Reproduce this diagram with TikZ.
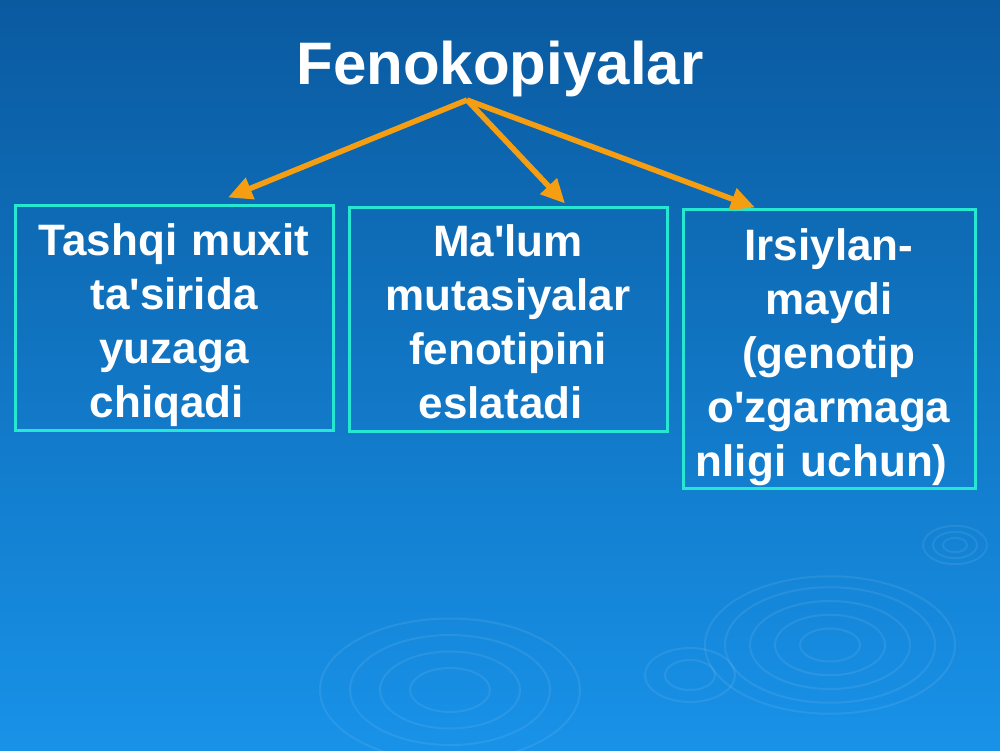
\documentclass[tikz,border=0pt]{standalone}
\usepackage{fontspec}
\setmainfont{Liberation Sans}[Ligatures=TeXOff]
\usetikzlibrary{arrows.meta}
\definecolor{bgtop}{RGB}{10,90,160}
\definecolor{bgbot}{RGB}{24,146,232}
\definecolor{arrorange}{RGB}{245,158,18}
\definecolor{boxcyan}{RGB}{38,232,210}
\begin{document}
\begin{tikzpicture}[x=1pt,y=1pt,
  infobox/.style={draw=boxcyan, line width=3pt, inner sep=0pt},
  infotext/.style={inner sep=0pt, align=center, text=white,
    font=\fontsize{44}{54}\selectfont\bfseries},
  branch/.style={draw=arrorange, line width=5.5pt, -{Triangle[length=24pt,width=22pt]}},
  ripple/.style={draw=white, opacity=0.08, line width=2pt}]
\useasboundingbox (0,0) rectangle (1000,750);
\shade[top color=bgtop, bottom color=bgbot] (0,0) rectangle (1000,750);
% ripples
\foreach \r in {30,55,80,105,125} \draw[ripple] (830,105) ellipse ({\r} and {\r*0.55});
\foreach \r in {12,22,32} \draw[ripple] (955,205) ellipse ({\r} and {\r*0.6});
\foreach \r in {40,70,100,130} \draw[ripple] (450,60) ellipse ({\r} and {\r*0.55});
\foreach \r in {25,45} \draw[ripple] (690,75) ellipse ({\r} and {\r*0.6});
% title
\node[text=white, font=\fontsize{60}{70}\selectfont\bfseries] (title) at (500,681) {Fenokopiyalar};
\coordinate (hub) at (467,650);
% boxes
\node[infobox, minimum width=318pt, minimum height=225pt] (b1) at (174,431.5) {};
\node[infobox, minimum width=318pt, minimum height=224pt] (b2) at (508,430) {};
\node[infobox, minimum width=292pt, minimum height=278pt] (b3) at (829,401) {};
\node[infotext, text width=310pt] (t1) at ([yshift=-7pt]b1.center)
  {Tashqi muxit\\ta'sirida\\yuzaga\\chiqadi\ \mbox{}};
\node[infotext, text width=310pt] (t2) at ([yshift=-2pt]b2.center)
  {Ma'lum\\mutasiyalar\\fenotipini\\eslatadi\ \mbox{}};
\node[infotext, text width=284pt] (t3) at ([yshift=-8pt]b3.center)
  {Irsiylan-\\maydi\\(genotip\\o'zgarmaga\\nligi uchun)\ \mbox{}};
% arrows
\draw[branch] (hub) -- ([xshift=54pt,yshift=7pt]b1.north);
\draw[branch] (hub) -- ([xshift=57pt,yshift=3pt]b2.north);
\draw[branch] (hub) -- ([xshift=-74pt,yshift=1pt]b3.north);
\end{tikzpicture}
\end{document}
